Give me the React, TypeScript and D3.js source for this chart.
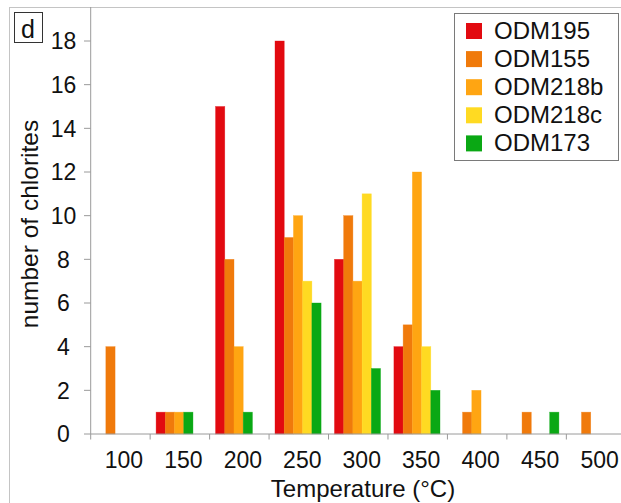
import React from "react";
import * as d3 from "d3";

const categories = [100, 150, 200, 250, 300, 350, 400, 450, 500];
const seriesNames = ["ODM195", "ODM155", "ODM218b", "ODM218c", "ODM173"];
const ODM195 = [0, 1, 15, 18, 8, 4, 0, 0, 0];
const ODM155 = [4, 1, 8, 9, 10, 5, 1, 1, 1];
const ODM218b = [0, 1, 4, 10, 7, 12, 2, 0, 0];
// null = no slot in that bin (bars to the right move in)
const ODM218c: (number | null)[] = [0, null, null, 7, 11, 4, 0, 0, 0];
const ODM173 = [0, 1, 1, 6, 3, 2, 0, 1, 0];
const seriesValues: (number | null)[][] = [ODM195, ODM155, ODM218b, ODM218c, ODM173];
const colors = ["#e20a10", "#f07a0b", "#ffa512", "#ffda22", "#0aa814"];
const yTicks = [0, 2, 4, 6, 8, 10, 12, 14, 16, 18];
const binEdges = [75, 125, 175, 225, 275, 325, 375, 425, 475, 525];

export default function App() {
  const W = 621, H = 503;
  const x = d3.scaleLinear().domain([75, 525]).range([90.7, 625.8]);
  const y = d3.scaleLinear().domain([0, 18]).range([434, 41]);
  const binPx = x(125) - x(75);
  const slotW = binPx * 0.155;
  const font = "'Liberation Sans', Arial, Helvetica, sans-serif";
  const axisCol = "#9a9a9a";

  const bars: React.ReactNode[] = [];
  categories.forEach((c, ci) => {
    let slot = 0;
    seriesValues.forEach((vals, si) => {
      const v = vals[ci];
      if (v === null) return;
      if (v > 0) {
        const x0 = x(c - 25) + binPx * 0.1 + slot * slotW;
        bars.push(
          <rect key={`${ci}-${si}`} x={x0} y={y(v)} width={slotW} height={y(0) - y(v)}
            fill={colors[si]} stroke={colors[si]} strokeOpacity={0.6} strokeWidth={0.6} />
        );
      }
      slot++;
    });
  });

  return (
    <svg width={W} height={H} style={{ position: "absolute", left: 0, top: 0 }} fontFamily={font}>
      <rect x={0} y={0} width={W} height={H} fill="#fff" />
      {/* outer frame */}
      <line x1={9} y1={7.5} x2={W} y2={7.5} stroke="#c4c4c4" strokeWidth={1} />
      <line x1={9.5} y1={7} x2={9.5} y2={H} stroke="#c4c4c4" strokeWidth={1} />
      {/* panel label */}
      <rect x={14.5} y={12.5} width={28} height={30} fill="#fff" stroke="#333" strokeWidth={1} />
      <text x={28} y={37.5} fontSize={25} textAnchor="middle" fill="#111">d</text>
      {bars}
      {/* y axis */}
      <line x1={x(75)} y1={7} x2={x(75)} y2={y(0)} stroke={axisCol} strokeWidth={1} />
      {yTicks.map((t) => (
        <g key={t}>
          <line x1={84} x2={x(75)} y1={y(t)} y2={y(t)} stroke={axisCol} strokeWidth={1} />
          <text x={63.5} y={y(t)} dy={8.3} fontSize={23} textAnchor="middle" fill="#111">{t}</text>
        </g>
      ))}
      {/* x axis */}
      <line x1={x(75)} x2={W} y1={y(0)} y2={y(0)} stroke={axisCol} strokeWidth={1} />
      {binEdges.map((e) => (
        <line key={e} x1={x(e)} x2={x(e)} y1={y(0)} y2={y(0) + 5.5} stroke={axisCol} strokeWidth={1} />
      ))}
      {categories.map((c) => (
        <text key={c} x={x(c) + 3.5} y={468} fontSize={23} textAnchor="middle" fill="#111">{c}</text>
      ))}
      <text x={363} y={497} fontSize={24} textAnchor="middle" fill="#111">Temperature (°C)</text>
      <text transform={`translate(37.5,224) rotate(-90)`} fontSize={24.5} textAnchor="middle" fill="#111">number of chlorites</text>
      {/* legend */}
      <rect x={454.5} y={13.5} width={164} height={147} fill="#fff" stroke="#7a7a7a" strokeWidth={1} />
      {seriesNames.map((n, i) => (
        <g key={n}>
          <rect x={466} y={23 + i * 28.1} width={16} height={16} fill={colors[i]} />
          <text x={494} y={39 + i * 28.1} fontSize={24} fill="#111">{n}</text>
        </g>
      ))}
    </svg>
  );
}
